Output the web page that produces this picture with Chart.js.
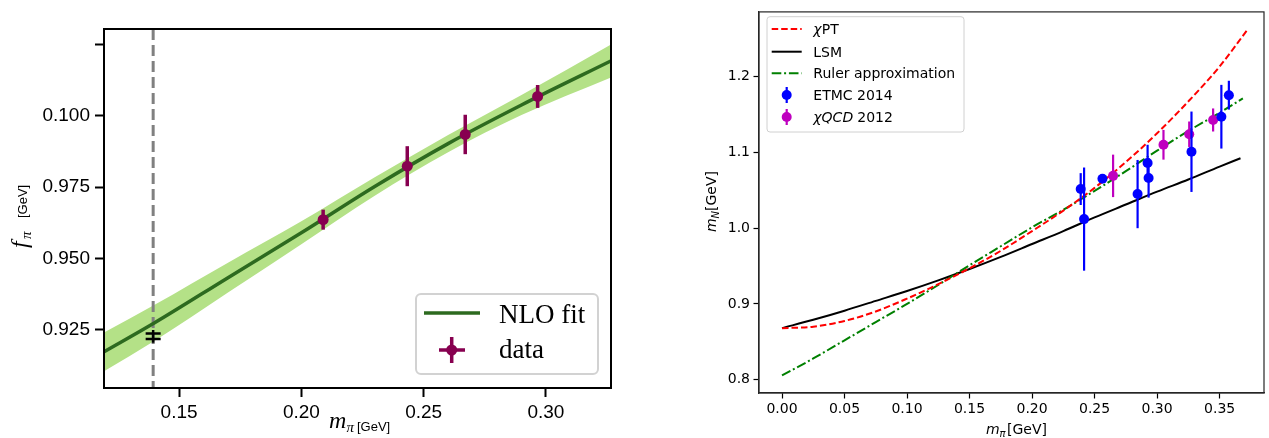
<!DOCTYPE html>
<html>
<head>
<meta charset="utf-8">
<script src="https://cdn.jsdelivr.net/npm/chart.js@4.4.1/dist/chart.umd.min.js"></script>
<style>
  html, body { margin: 0; padding: 0; background: #fff; }
  #wrap { position: relative; width: 1269px; height: 438px; overflow: hidden; }
  #fpiChart { position: absolute; left: 0; top: 0; }
  #mnChart { position: absolute; left: 635px; top: 0; }
</style>
</head>
<body>
<div id="wrap">
  <canvas id="fpiChart" width="635" height="438"></canvas>
  <canvas id="mnChart" width="634" height="438"></canvas>
</div>
<script>
// ---- left panel: f_pi vs m_pi ----
const fitX = [0.119, 0.14, 0.17, 0.20, 0.23, 0.26, 0.29, 0.327];
const fitY = [0.9172, 0.9275, 0.9433, 0.959, 0.9752, 0.9902, 1.0037, 1.0193];
const bandHigh = [0.9240, 0.9338, 0.9485, 0.9630, 0.9784, 0.9932, 1.0072, 1.0251];
const bandLow = [0.9104, 0.9212, 0.9381, 0.9550, 0.9720, 0.9872, 1.0002, 1.0135];
const latX = [0.2089, 0.2433, 0.267, 0.2966];
const latY = [0.9636, 0.9823, 0.9934, 1.0067];
const latErr = [0.0035, 0.0070, 0.0069, 0.0040];
const physMpi = 0.1394;
const physF = 0.9228;
const physErr = 0.001;
const physBar = [0.9205, 0.9250];
const leftXTicks = [0.15, 0.20, 0.25, 0.30];
const leftXLabels = ['0.15', '0.20', '0.25', '0.30'];
const leftYTicks = [0.925, 0.950, 0.975, 1.000, 1.025];
const leftYLabels = ['0.925', '0.950', '0.975', '0.100', ''];

// ---- right panel: m_N vs m_pi ----
const chptX = [0, 0.025, 0.05, 0.075, 0.10, 0.125, 0.15, 0.175, 0.20, 0.225, 0.25, 0.275, 0.30, 0.325, 0.35, 0.3725];
const chptY = [0.868, 0.870, 0.8775, 0.890, 0.907, 0.926, 0.947, 0.970, 0.996, 1.023, 1.053, 1.087, 1.125, 1.167, 1.213, 1.262];
const lsmX = [0, 0.025, 0.05, 0.075, 0.10, 0.125, 0.15, 0.175, 0.20, 0.225, 0.25, 0.275, 0.30, 0.325, 0.35, 0.3667];
const lsmY = [0.868, 0.879, 0.891, 0.904, 0.917, 0.931, 0.946, 0.962, 0.979, 0.996, 1.014, 1.031, 1.048, 1.064, 1.081, 1.092];
const rulerX = [0, 0.025, 0.05, 0.075, 0.10, 0.125, 0.15, 0.175, 0.20, 0.225, 0.25, 0.275, 0.30, 0.325, 0.35, 0.3686];
const rulerY = [0.8056, 0.828, 0.852, 0.876, 0.900, 0.925, 0.951, 0.976, 1.001, 1.024, 1.049, 1.075, 1.102, 1.128, 1.152, 1.171];
const etmcX = [0.2389, 0.2416, 0.2563, 0.2844, 0.2924, 0.2932, 0.3275, 0.3514, 0.3574];
const etmcY = [1.0514, 1.0118, 1.0649, 1.0448, 1.0858, 1.0661, 1.1006, 1.1468, 1.1752];
const etmcErr = [0.021, 0.068, 0.005, 0.045, 0.024, 0.026, 0.053, 0.042, 0.019];
const qcdX = [0.2648, 0.3051, 0.3257, 0.3448];
const qcdY = [1.0688, 1.1098, 1.1237, 1.1425];
const qcdErr = [0.028, 0.0196, 0.0168, 0.0152];
const rightXTicks = [0, 0.05, 0.10, 0.15, 0.20, 0.25, 0.30, 0.35];
const rightXLabels = ['0.00', '0.05', '0.10', '0.15', '0.20', '0.25', '0.30', '0.35'];
const rightYTicks = [0.8, 0.9, 1.0, 1.1, 1.2];
const rightYLabels = ['0.8', '0.9', '1.0', '1.1', '1.2'];

const pts = (xs, ys) => xs.map((x, i) => ({ x: x, y: ys[i] }));

function axis(min, max, ticks, labels, o) {
    return {
        type: 'linear', min: min, max: max,
        afterBuildTicks: s => { s.ticks = ticks.map(v => ({ value: v })); },
        afterFit: s => { if (o.w) s.width = o.w; if (o.h) s.height = o.h; },
        grid: { drawOnChartArea: false, drawTicks: true, tickLength: o.tl, tickWidth: o.tw, tickColor: '#000' },
        border: { display: true, color: o.bc, width: o.bw },
        ticks: { padding: o.pad, color: '#000', font: o.font, maxRotation: 0, autoSkip: false,
                 callback: (v, i) => labels[i] }
    };
}

function box(ctx, x, y, w, h, r, stroke, lw) {
    ctx.save();
    ctx.beginPath();
    ctx.moveTo(x + r, y);
    ctx.arcTo(x + w, y, x + w, y + h, r);
    ctx.arcTo(x + w, y + h, x, y + h, r);
    ctx.arcTo(x, y + h, x, y, r);
    ctx.arcTo(x, y, x + w, y, r);
    ctx.closePath();
    ctx.fillStyle = 'rgba(255,255,255,0.85)';
    ctx.fill();
    ctx.strokeStyle = stroke;
    ctx.lineWidth = lw;
    ctx.stroke();
    ctx.restore();
}

function errBars(ctx, x, y, xs, ys, es, color, lw, cap) {
    ctx.save();
    ctx.strokeStyle = color;
    ctx.lineWidth = lw;
    xs.forEach((v, i) => {
        const px = x.getPixelForValue(v);
        const top = y.getPixelForValue(ys[i] + es[i]);
        const bot = y.getPixelForValue(ys[i] - es[i]);
        ctx.beginPath();
        ctx.moveTo(px, top); ctx.lineTo(px, bot);
        if (cap) {
            ctx.moveTo(px - cap, top); ctx.lineTo(px + cap, top);
            ctx.moveTo(px - cap, bot); ctx.lineTo(px + cap, bot);
        }
        ctx.stroke();
    });
    ctx.restore();
}

// draw a run of [text, font, dx, dy] pieces
function pieces(ctx, x0, y0, rot, list) {
    ctx.save();
    ctx.translate(x0, y0);
    if (rot) ctx.rotate(rot);
    ctx.fillStyle = '#000';
    ctx.textBaseline = 'alphabetic';
    ctx.textAlign = 'left';
    list.forEach(p => { ctx.font = p[1]; ctx.fillText(p[0], p[2], p[3]); });
    ctx.restore();
}

const FIT_GREEN = '#2d6a1f';
const LAT_COLOR = '#870050';

const leftDecor = {
    id: 'leftDecor',
    beforeDatasetDraw(chart, args) {
        const { ctx, chartArea: a, scales: { x, y } } = chart;
        if (args.index === 1) {
            // physical pion mass
            const px = x.getPixelForValue(physMpi);
            ctx.save();
            ctx.strokeStyle = '#808080';
            ctx.lineWidth = 3;
            ctx.setLineDash([11, 5]);
            ctx.beginPath();
            ctx.moveTo(px, a.top); ctx.lineTo(px, a.bottom);
            ctx.stroke();
            ctx.restore();
        }
        if (args.index === 0) {
            errBars(ctx, x, y, latX, latY, latErr, LAT_COLOR, 3.5, 0);
        }
    },
    afterDatasetsDraw(chart) {
        const { ctx, scales: { x, y } } = chart;
        const px = x.getPixelForValue(physMpi);
        ctx.save();
        ctx.strokeStyle = '#000';
        ctx.lineWidth = 2.5;
        ctx.beginPath();
        ctx.moveTo(px, y.getPixelForValue(physBar[1]));
        ctx.lineTo(px, y.getPixelForValue(physBar[0]));
        [physF + physErr, physF - physErr].forEach(v => {
            const py = y.getPixelForValue(v);
            ctx.moveTo(px - 7.5, py); ctx.lineTo(px + 7.5, py);
        });
        ctx.stroke();
        ctx.restore();
    },
    afterDraw(chart) {
        const { ctx, chartArea: a } = chart;
        ctx.save();
        ctx.strokeStyle = '#000';
        ctx.lineWidth = 2;
        ctx.strokeRect(a.left, a.top, a.right - a.left, a.bottom - a.top);
        ctx.restore();

        // legend
        box(ctx, 416, 294, 182, 80, 5, '#d2d2d2', 2);
        ctx.save();
        ctx.strokeStyle = FIT_GREEN;
        ctx.lineWidth = 3.5;
        ctx.beginPath(); ctx.moveTo(424, 313); ctx.lineTo(480, 313); ctx.stroke();
        ctx.strokeStyle = LAT_COLOR;
        ctx.beginPath();
        ctx.moveTo(451.7, 337); ctx.lineTo(451.7, 363);
        ctx.moveTo(439, 350); ctx.lineTo(465, 350);
        ctx.stroke();
        ctx.fillStyle = LAT_COLOR;
        ctx.beginPath(); ctx.arc(451.7, 350, 5.5, 0, Math.PI * 2); ctx.fill();
        ctx.restore();
        pieces(ctx, 499, 323, 0, [['NLO fit', '27px "Liberation Serif"', 0, 0]]);
        pieces(ctx, 499, 358, 0, [['data', '27px "Liberation Serif"', 0, 0]]);

        // axis titles
        pieces(ctx, 329, 428, 0, [
            ['m', 'italic 24px "Liberation Serif"', 0, 0],
            ['π', 'italic 15px "Liberation Serif"', 17.5, 4],
            ['[GeV]', '13px "Liberation Sans"', 28, 3]
        ]);
        pieces(ctx, 27, 248, -Math.PI / 2, [
            ['f', 'italic 24px "Liberation Serif"', 0, 0],
            ['π', 'italic 15px "Liberation Serif"', 9, 4],
            ['[GeV]', '13px "Liberation Sans"', 30, 0]
        ]);
    }
};

const rightDecor = {
    id: 'rightDecor',
    beforeDatasetDraw(chart, args) {
        const { ctx, scales: { x, y } } = chart;
        if (args.index === 0) errBars(ctx, x, y, etmcX, etmcY, etmcErr, '#0000ff', 2.2, 0);
        if (args.index === 1) errBars(ctx, x, y, qcdX, qcdY, qcdErr, '#bf00bf', 2.2, 0);
    },
    afterDraw(chart) {
        const { ctx, chartArea: a } = chart;
        ctx.save();
        ctx.strokeStyle = '#262626';
        ctx.lineWidth = 1.2;
        ctx.strokeRect(a.left, a.top, a.right - a.left, a.bottom - a.top);
        ctx.restore();

        // legend
        box(ctx, 132, 16.7, 197, 115.3, 3, '#d0d0d0', 1);
        const rows = [29, 51.7, 73.3, 95, 117];
        const lines = [['#ff0000', [6.5, 3]], ['#000000', []], ['#008000', [9.6, 2.8, 2, 2.8]]];
        ctx.save();
        ctx.lineWidth = 2;
        lines.forEach((l, i) => {
            ctx.strokeStyle = l[0];
            ctx.setLineDash(l[1]);
            ctx.beginPath(); ctx.moveTo(136.7, rows[i]); ctx.lineTo(166.7, rows[i]); ctx.stroke();
        });
        ctx.setLineDash([]);
        [['#0000ff', rows[3]], ['#bf00bf', rows[4]]].forEach(m => {
            ctx.strokeStyle = m[0];
            ctx.lineWidth = 2.2;
            ctx.beginPath(); ctx.moveTo(151.7, m[1] - 8); ctx.lineTo(151.7, m[1] + 8); ctx.stroke();
            ctx.fillStyle = m[0];
            ctx.beginPath(); ctx.arc(151.7, m[1], 5, 0, Math.PI * 2); ctx.fill();
        });
        ctx.restore();
        const f = '14px "DejaVu Sans"', fi = 'italic 14px "DejaVu Sans"';
        pieces(ctx, 178.3, rows[0] + 5, 0, [['χ', fi, 0, 0], ['PT', f, 8.5, 0]]);
        pieces(ctx, 178.3, rows[1] + 5, 0, [['LSM', f, 0, 0]]);
        pieces(ctx, 178.3, rows[2] + 5, 0, [['Ruler approximation', f, 0, 0]]);
        pieces(ctx, 178.3, rows[3] + 5, 0, [['ETMC 2014', f, 0, 0]]);
        pieces(ctx, 178.3, rows[4] + 5, 0, [['χQCD', fi, 0, 0], ['2012', f, 44, 0]]);

        // axis titles
        pieces(ctx, 351, 434, 0, [
            ['m', fi, 0, 0],
            ['π', 'italic 10px "DejaVu Sans"', 13.5, 3],
            ['[GeV]', f, 21, 0]
        ]);
        pieces(ctx, 81, 232, -Math.PI / 2, [
            ['m', fi, 0, 0],
            ['N', 'italic 10px "DejaVu Sans"', 13.5, 3],
            ['[GeV]', f, 21, 0]
        ]);
    }
};

const common = {
    responsive: false,
    animation: false,
    events: [],
    plugins: { legend: { display: false }, tooltip: { enabled: false } }
};

new Chart(document.getElementById('fpiChart').getContext('2d'), {
    type: 'line',
    data: {
        datasets: [
            { data: pts(latX, latY), showLine: false, pointRadius: 5.5, pointBorderWidth: 0,
              pointBackgroundColor: LAT_COLOR, borderColor: LAT_COLOR },
            { data: pts(fitX, fitY), borderColor: FIT_GREEN, borderWidth: 3.5, pointRadius: 0,
              cubicInterpolationMode: 'monotone', fill: false },
            { data: pts(fitX, bandHigh), borderWidth: 0, borderColor: 'rgba(0,0,0,0)', pointRadius: 0,
              cubicInterpolationMode: 'monotone', fill: '+1', backgroundColor: '#b4e187' },
            { data: pts(fitX, bandLow), borderWidth: 0, borderColor: 'rgba(0,0,0,0)', pointRadius: 0,
              cubicInterpolationMode: 'monotone', fill: false }
        ]
    },
    options: Object.assign({}, common, {
        layout: { padding: { left: 0, right: 24, top: 29, bottom: 0 } },
        scales: {
            x: axis(0.1193, 0.3266, leftXTicks, leftXLabels,
                { h: 50, tl: 9, tw: 2, bw: 2, bc: '#000', pad: 4, font: { family: 'Liberation Sans', size: 19 } }),
            y: axis(0.9047, 1.0303, leftYTicks, leftYLabels,
                { w: 104, tl: 9, tw: 2, bw: 2, bc: '#000', pad: 5, font: { family: 'Liberation Sans', size: 19 } })
        }
    }),
    plugins: [leftDecor]
});

new Chart(document.getElementById('mnChart').getContext('2d'), {
    type: 'line',
    data: {
        datasets: [
            { data: pts(etmcX, etmcY), showLine: false, pointRadius: 5, pointBorderWidth: 0,
              pointBackgroundColor: '#0000ff', borderColor: '#0000ff' },
            { data: pts(qcdX, qcdY), showLine: false, pointRadius: 5, pointBorderWidth: 0,
              pointBackgroundColor: '#bf00bf', borderColor: '#bf00bf' },
            { data: pts(chptX, chptY), borderColor: '#ff0000', borderWidth: 2, borderDash: [6.5, 3],
              pointRadius: 0, cubicInterpolationMode: 'monotone', fill: false },
            { data: pts(rulerX, rulerY), borderColor: '#008000', borderWidth: 2, borderDash: [9.6, 2.8, 2, 2.8],
              pointRadius: 0, cubicInterpolationMode: 'monotone', fill: false },
            { data: pts(lsmX, lsmY), borderColor: '#000000', borderWidth: 2,
              pointRadius: 0, cubicInterpolationMode: 'monotone', fill: false }
        ]
    },
    options: Object.assign({}, common, {
        layout: { padding: { left: 0, right: 1, top: 8, bottom: 0 } },
        scales: {
            x: axis(-0.0184, 0.3855, rightXTicks, rightXLabels,
                { h: 45, tl: 5.5, tw: 1.2, bw: 1.2, bc: '#262626', pad: 2, font: { family: 'DejaVu Sans', size: 14 } }),
            y: axis(0.7825, 1.285, rightYTicks, rightYLabels,
                { w: 124, tl: 5.5, tw: 1.2, bw: 1.2, bc: '#262626', pad: 3.5, font: { family: 'DejaVu Sans', size: 14 } })
        }
    }),
    plugins: [rightDecor]
});
</script>
</body>
</html>
